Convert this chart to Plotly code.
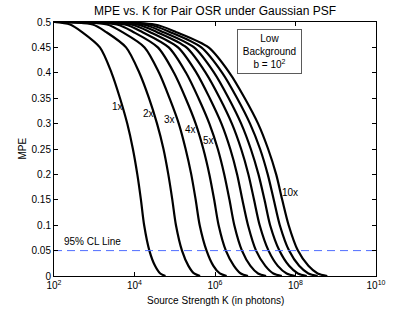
import plotly.graph_objects as go

# MPE levels at which each curve was read
mpe_levels = [0.5, 0.495, 0.48, 0.45, 0.4, 0.35, 0.3, 0.25, 0.2, 0.15, 0.1, 0.05, 0.02, 0.005, 0.0]

# log10(K) positions read for each curve at the levels above
logk_1x = [2.0, 2.40, 2.70, 3.14, 3.43, 3.64, 3.82, 3.96, 4.07, 4.16, 4.24, 4.37, 4.51, 4.64, 4.77]
logk_2x = [2.0, 2.96, 3.30, 3.79, 4.12, 4.36, 4.56, 4.72, 4.84, 4.94, 5.03, 5.18, 5.34, 5.48, 5.63]
logk_3x = [2.0, 3.32, 3.70, 4.25, 4.61, 4.87, 5.10, 5.27, 5.41, 5.52, 5.62, 5.79, 5.96, 6.12, 6.29]
logk_4x = [2.0, 3.56, 3.98, 4.58, 4.98, 5.27, 5.52, 5.71, 5.86, 5.98, 6.09, 6.27, 6.47, 6.64, 6.82]
logk_5x = [2.0, 3.76, 4.20, 4.85, 5.28, 5.59, 5.86, 6.07, 6.23, 6.36, 6.48, 6.67, 6.88, 7.07, 7.27]
logk_6x = [2.0, 3.91, 4.39, 5.08, 5.54, 5.87, 6.16, 6.38, 6.55, 6.68, 6.82, 7.02, 7.25, 7.45, 7.66]
logk_7x = [2.0, 4.06, 4.56, 5.29, 5.77, 6.12, 6.42, 6.65, 6.83, 6.97, 7.11, 7.33, 7.56, 7.78, 7.99]
logk_8x = [2.0, 4.21, 4.72, 5.48, 5.98, 6.34, 6.65, 6.89, 7.08, 7.23, 7.37, 7.60, 7.84, 8.06, 8.28]
logk_9x = [2.0, 4.35, 4.89, 5.66, 6.18, 6.55, 6.87, 7.12, 7.31, 7.46, 7.61, 7.84, 8.09, 8.32, 8.55]
logk_10x = [2.0, 4.50, 5.04, 5.84, 6.36, 6.74, 7.07, 7.32, 7.52, 7.67, 7.83, 8.06, 8.32, 8.55, 8.79]

curves = [logk_1x, logk_2x, logk_3x, logk_4x, logk_5x,
          logk_6x, logk_7x, logk_8x, logk_9x, logk_10x]

# curve labels: (text, log10 K, MPE)
label_texts = ["1x", "2x", "3x", "4x", "5x", "10x"]
label_logk = [3.57, 4.34, 4.88, 5.38, 5.83, 7.86]
label_mpe = [0.333, 0.320, 0.308, 0.289, 0.266, 0.164]

cl_level = 0.05
x_ticks_exp = [2, 4, 6, 8, 10]
y_ticks = [0, 0.05, 0.1, 0.15, 0.2, 0.25, 0.3, 0.35, 0.4, 0.45, 0.5]

FONT = "Liberation Sans, Arial, Helvetica, sans-serif"

# plot area in pixels
L, R, T, B = 54, 376, 22, 276
W, H = 415, 312
PW, PH = R - L, B - T

fig = go.Figure()
for lk in curves:
    fig.add_trace(go.Scatter(
        x=[10 ** v for v in lk], y=mpe_levels, mode="lines",
        line=dict(color="black", width=2.2, shape="spline", smoothing=0.8),
        showlegend=False, hoverinfo="skip"))

fig.add_trace(go.Scatter(
    x=[10 ** 2, 10 ** 10], y=[cl_level, cl_level], mode="lines",
    line=dict(color="rgb(80,110,255)", width=1, dash="8px,5px"),
    showlegend=False, hoverinfo="skip"))

for t, lk, m in zip(label_texts, label_logk, label_mpe):
    fig.add_annotation(x=lk, y=m, xref="x", yref="y", text=t, showarrow=False,
                       font=dict(size=10, color="black", family=FONT))

fig.add_annotation(x=2.2, y=0.067, xref="x", yref="y", text="95% CL Line",
                   showarrow=False, xanchor="left",
                   font=dict(size=10, color="black", family=FONT))

fig.add_annotation(x=(237 - L) / PW, y=(B - 29) / PH, xref="paper", yref="paper",
                   xanchor="left", yanchor="top", showarrow=False,
                   text="Low<br>Background<br>b = 10<sup>2</sup>",
                   align="center", valign="middle",
                   bordercolor="rgb(90,90,90)", borderwidth=1,
                   borderpad=1, bgcolor="white", width=61, height=41,
                   font=dict(size=10, color="black", family=FONT))

# axis titles as annotations for exact placement
fig.add_annotation(x=(215 - L) / PW, y=(B - 300) / PH, xref="paper", yref="paper",
                   text="Source Strength K (in photons)", showarrow=False,
                   xanchor="center", yanchor="middle",
                   font=dict(size=10, color="black", family=FONT))
fig.add_annotation(x=(21.5 - L) / PW, y=0.5, xref="paper", yref="paper",
                   text="MPE", showarrow=False, textangle=-90,
                   xanchor="center", yanchor="middle",
                   font=dict(size=10, color="black", family=FONT))

fig.update_layout(
    width=W, height=H,
    margin=dict(l=L, r=W - R, t=T, b=H - B, autoexpand=False),
    paper_bgcolor="white", plot_bgcolor="white",
    title=dict(text="MPE vs. K for Pair OSR under Gaussian PSF",
               x=215 / W, xanchor="center", y=1 - 11 / H, yanchor="middle",
               font=dict(size=12, color="black", family=FONT)),
    font=dict(family=FONT, size=10, color="black"),
)
fig.update_xaxes(type="log", range=[2, 10], automargin=False,
                 tickvals=[10 ** e for e in x_ticks_exp],
                 ticktext=["10<sup>%d</sup>" % e for e in x_ticks_exp],
                 ticks="inside", ticklen=4, tickcolor="black",
                 showline=True, linecolor="black", linewidth=1, mirror="ticks",
                 showgrid=False, zeroline=False,
                 tickfont=dict(size=10, family=FONT))
fig.update_yaxes(range=[0, 0.5], automargin=False,
                 tickvals=y_ticks,
                 ticktext=["%g" % v for v in y_ticks],
                 ticks="inside", ticklen=4, tickcolor="black",
                 showline=True, linecolor="black", linewidth=1, mirror="ticks",
                 showgrid=False, zeroline=False,
                 tickfont=dict(size=10, family=FONT))

fig.write_html("out.html", config={"displayModeBar": False},
               post_script="document.body.style.margin='0';document.body.style.padding='0';")
